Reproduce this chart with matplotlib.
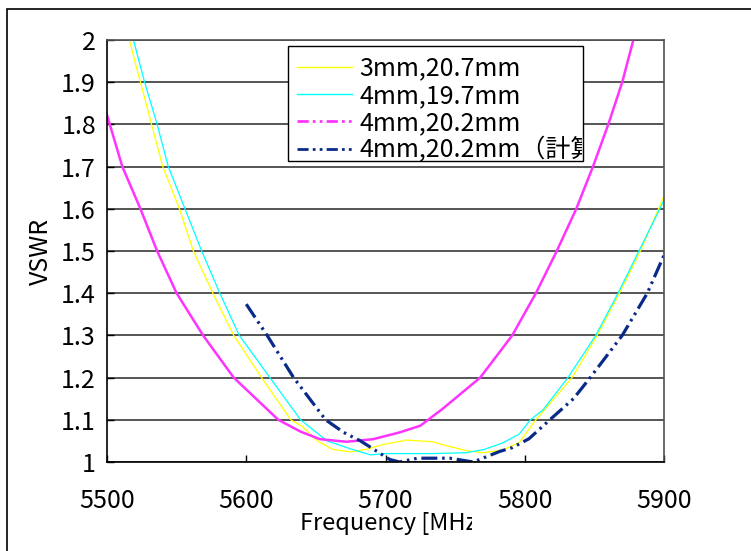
import matplotlib
matplotlib.use("Agg")
import matplotlib.pyplot as plt
from matplotlib.lines import Line2D
from matplotlib.patches import Rectangle
from matplotlib.transforms import Bbox

plt.rcParams['font.family'] = ['Noto Sans CJK JP', 'DejaVu Sans']

# 3mm,20.7mm (measured)
freq_3mm_207 = [5516, 5524, 5532, 5540, 5552, 5562, 5576, 5591, 5611, 5632, 5640, 5651,
                5662, 5675, 5686, 5698, 5715, 5734, 5741, 5758, 5770, 5784, 5796, 5808,
                5834, 5852, 5868, 5883, 5900]
vswr_3mm_207 = [2.0, 1.9, 1.8, 1.7, 1.6, 1.5, 1.4, 1.3, 1.2, 1.1, 1.085, 1.05,
                1.03, 1.024, 1.03, 1.041, 1.052, 1.048, 1.041, 1.027, 1.022, 1.028, 1.046, 1.1,
                1.2, 1.3, 1.4, 1.5, 1.63]

# 4mm,19.7mm (measured)
freq_4mm_197 = [5519, 5527, 5536, 5544, 5556, 5568, 5581, 5595, 5617, 5639, 5658, 5675,
                5689, 5701, 5734, 5758, 5771, 5784, 5796, 5804, 5813, 5831, 5851, 5867,
                5882, 5900]
vswr_4mm_197 = [2.0, 1.9, 1.8, 1.7, 1.6, 1.5, 1.4, 1.3, 1.2, 1.1, 1.05, 1.031,
                1.017, 1.02, 1.02, 1.022, 1.03, 1.045, 1.066, 1.1, 1.123, 1.2, 1.3, 1.4,
                1.5, 1.62]

# 4mm,20.2mm (measured)
freq_4mm_202 = [5500, 5502, 5511, 5524, 5536, 5550, 5569, 5591, 5623, 5639, 5653, 5672,
                5691, 5710, 5725, 5741, 5768, 5791, 5808, 5823, 5837, 5849, 5860, 5870, 5878]
vswr_4mm_202 = [1.822, 1.8, 1.7, 1.6, 1.5, 1.4, 1.3, 1.2, 1.1, 1.072, 1.054, 1.048,
                1.054, 1.07, 1.086, 1.126, 1.2, 1.3, 1.4, 1.5, 1.6, 1.7, 1.8, 1.9, 2.0]

# 4mm,20.2mm (calculated)
freq_calc = [5600, 5615, 5634, 5657, 5670, 5682, 5694, 5703, 5710, 5723, 5746, 5763,
             5782, 5791, 5803, 5818, 5835, 5847, 5870, 5888, 5900]
vswr_calc = [1.374, 1.3, 1.2, 1.1, 1.07, 1.05, 1.025, 1.006, 1.0, 1.009, 1.009, 1.0,
             1.025, 1.034, 1.055, 1.1, 1.15, 1.2, 1.3, 1.4, 1.49]

labels = ['3mm,20.7mm', '4mm,19.7mm', '4mm,20.2mm', '4mm,20.2mm（計算値）']
x_ticks = [5500, 5600, 5700, 5800, 5900]
y_ticks = [1, 1.1, 1.2, 1.3, 1.4, 1.5, 1.6, 1.7, 1.8, 1.9, 2]

yellow = '#ffff00'
cyan = '#00ffff'
pink = '#ff33ff'
navy = '#0a2a8a'
ddot = (0, (4, 1.5, 1, 1.5, 1, 1.5))
fs = 18

W, H = 751, 551
fig = plt.figure(figsize=(W / 100, H / 100), dpi=100)
ax = fig.add_axes([107 / W, 89 / H, 557 / W, 422 / H])

ax.plot(freq_3mm_207, vswr_3mm_207, color=yellow, lw=0.9)
ax.plot(freq_4mm_197, vswr_4mm_197, color=cyan, lw=0.9)
ax.plot(freq_4mm_202, vswr_4mm_202, color=pink, lw=1.8)
ax.plot(freq_calc, vswr_calc, color=navy, lw=2.3, linestyle=(0, (5, 1.5, 0.8, 1.5, 0.8, 1.5)))

ax.set_xlim(5500, 5900)
ax.set_ylim(1, 2)
ax.set_xticks(x_ticks)
ax.set_yticks(y_ticks)
ax.set_yticklabels([f'{v:g}' for v in y_ticks])
ax.yaxis.grid(True, color='#383838', lw=1.2)
ax.set_axisbelow(True)
ax.tick_params(axis='x', direction='in', length=5, width=1, pad=19, labelsize=fs)
ax.tick_params(axis='y', direction='in', length=5, width=1, pad=8, labelsize=fs)
for side in ['left', 'bottom']:
    ax.spines[side].set_color('black')
    ax.spines[side].set_linewidth(1.2)
for side in ['top', 'right']:
    ax.spines[side].set_color('#505050')
    ax.spines[side].set_linewidth(1.2)

ax.set_ylabel('VSWR', fontsize=fs, labelpad=5)
xl = ax.set_xlabel('Frequency [MHz]', fontsize=17, ha='left')
ax.xaxis.set_label_coords((300 - 107) / 557, (462 - 512) / 422)

handles = [
    Line2D([], [], color=yellow, lw=1),
    Line2D([], [], color=cyan, lw=1),
    Line2D([], [], color=pink, lw=2, linestyle=ddot),
    Line2D([], [], color=navy, lw=2, linestyle=ddot),
]
# legend box: x 288..583 px, y 46..161 px (frame drawn separately)
leg = ax.legend(handles, labels, loc='upper left', mode='expand',
                bbox_to_anchor=((288 - 107) / 557, (462 - 161) / 422,
                                295 / 557, (161 - 47) / 422),
                borderaxespad=0, fontsize=fs, frameon=False,
                handlelength=2.2, handletextpad=0.3,
                labelspacing=0.05, borderpad=0.35)
leg_frame = Rectangle((288 / W, 1 - 161 / H), 295 / W, 115 / H,
                      transform=fig.transFigure, facecolor='white',
                      edgecolor='black', lw=1.0, zorder=4.9)
ax.add_artist(leg_frame)
leg.set_zorder(5)

# outer chart-area frame
fig.patches.append(Rectangle((7 / W, -0.2), 1.2, 1 - 9 / H + 0.2,
                             transform=fig.transFigure, fill=False,
                             edgecolor='black', lw=1.2, clip_on=False))

xl.set_clip_on(True)
xl.set_clip_box(Bbox([[0, 0], [472, H]]))

# clip legend labels to the legend box
clip = Bbox([[288, H - 161], [582, H - 46]])
for t in leg.get_texts():
    t.set_clip_on(True)
    t.set_clip_box(clip)

fig.savefig('out.png', dpi=100)
